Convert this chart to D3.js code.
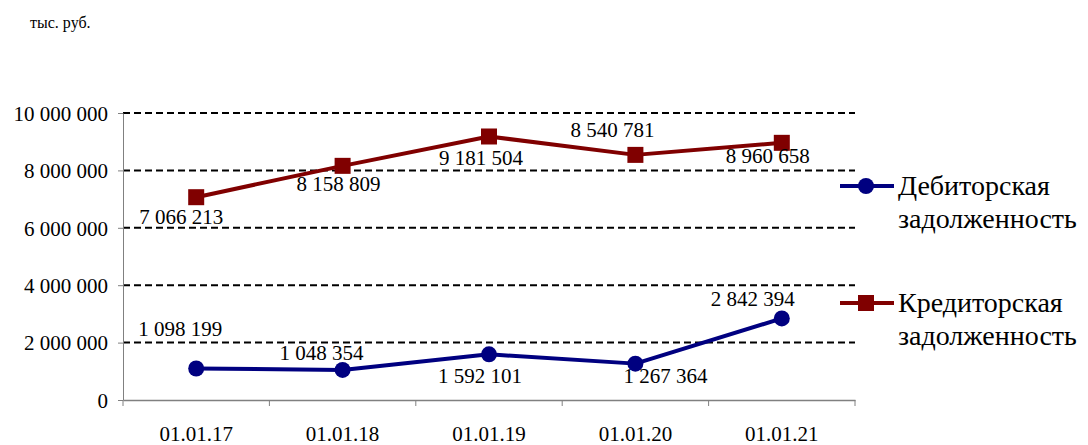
<!DOCTYPE html>
<html>
<head>
<meta charset="utf-8">
<script src="https://cdn.jsdelivr.net/npm/d3@7"></script>
<style>
  body { margin: 0; background: #fff; font-family: "Times New Roman", "Liberation Serif", serif; }
  svg, svg text { font-family: "Times New Roman", "Liberation Serif", serif; }
</style>
</head>
<body>
<svg id="chart" width="1088" height="445"></svg>
<script>
"use strict";

// --- data ---
const dates = ["01.01.17", "01.01.18", "01.01.19", "01.01.20", "01.01.21"]
const debitValues = [1098199, 1048354, 1592101, 1267364, 2842394]
const creditValues = [7066213, 8158809, 9181504, 8540781, 8960658]
const yTicks = [0, 2000000, 4000000, 6000000, 8000000, 10000000]
const seriesNames = ["Дебиторская задолженность", "Кредиторская задолженность"]

// label placement relative to point (layout only)
const debitLabelOffsets = [[-16, -40], [-21, -17], [-9, 21], [30, 12], [-29, -20]]
const creditLabelOffsets = [[-15, 19], [-4, 18], [-8, 21], [-23, -25], [-14, 13]]

const SERIF = "Times New Roman, Liberation Serif, serif"

const chartSvg = d3.select("#chart")
const plotLeft = 123, plotRight = 855, plotTop = 113, plotBottom = 400

const x = d3.scaleBand().domain(dates).range([plotLeft, plotRight])
const y = d3.scaleLinear().domain([0, 10000000]).range([plotBottom, plotTop])

const fmt = v => d3.format(",")(v).replace(/,/g, " ")

function serifText (sel, px) {
    return sel.attr("font-family", SERIF).attr("font-size", px).style("fill", "#000")
}

// unit caption
serifText(chartSvg.append("text").attr("x", 30).attr("y", 28), 16).text("тыс. руб.")

// gridlines
chartSvg.append("g").selectAll("line")
    .data(yTicks.filter(d => d > 0))
    .enter().append("line")
    .attr("x1", plotLeft).attr("x2", plotRight)
    .attr("y1", d => y(d)).attr("y2", d => y(d))
    .style("stroke", "#000")
    .style("stroke-width", 2)
    .style("stroke-dasharray", "7,4")

// y axis
const yAxis = chartSvg.append("g")
    .attr("transform", "translate(" + plotLeft + ",0)")
    .call(d3.axisLeft(y).tickValues(yTicks).tickFormat(fmt).tickSize(5).tickSizeOuter(0))
    .attr("font-family", SERIF).attr("font-size", 21)
yAxis.select(".domain").style("stroke", "#808080")
yAxis.selectAll(".tick line").style("stroke", "#808080")
serifText(yAxis.selectAll(".tick text"), 21)
    .attr("x", -15).attr("dy", "0.35em")

// x axis
const xAxis = chartSvg.append("g")
    .attr("transform", "translate(0," + plotBottom + ")")
    .call(d3.axisBottom(x).tickSize(0).tickSizeOuter(0))
    .attr("font-family", SERIF).attr("font-size", 21)
xAxis.select(".domain").style("stroke", "#808080").style("stroke-width", 1.5)
serifText(xAxis.selectAll(".tick text"), 21)
    .attr("y", 26)
// category separators
xAxis.selectAll(".sep")
    .data(dates.map(d => x(d)).concat([plotRight]))
    .enter().append("line")
    .attr("x1", d => d).attr("x2", d => d)
    .attr("y1", 0).attr("y2", 6)
    .style("stroke", "#808080")

const cx = d => x(d) + x.bandwidth() / 2

function drawSeries (values, color, marker, offsets) {
    const pts = values.map((v, i) => [cx(dates[i]), y(v)])
    chartSvg.append("path")
        .datum(pts)
        .attr("d", d3.line())
        .style("fill", "none")
        .style("stroke", color)
        .style("stroke-width", 4)
        .style("stroke-linejoin", "round")

    const g = chartSvg.append("g")
    if (marker === "circle") {
        g.selectAll("circle").data(pts).enter().append("circle")
            .attr("cx", d => d[0]).attr("cy", d => d[1]).attr("r", 8)
            .style("fill", color)
    } else {
        g.selectAll("rect").data(pts).enter().append("rect")
            .attr("x", d => d[0] - 8).attr("y", d => d[1] - 8)
            .attr("width", 16).attr("height", 16)
            .style("fill", color)
    }

    const labels = chartSvg.append("g").selectAll("text").data(values).enter().append("text")
        .attr("x", (d, i) => pts[i][0] + offsets[i][0])
        .attr("y", (d, i) => pts[i][1] + offsets[i][1])
        .attr("text-anchor", "middle")
        .attr("dy", "0.35em")
    serifText(labels, 21).text(d => fmt(d))
}

drawSeries(creditValues, "#800000", "square", creditLabelOffsets)
drawSeries(debitValues, "#000080", "circle", debitLabelOffsets)

// legend
const legend = [
    { name: seriesNames[0], color: "#000080", marker: "circle", ly: 186 },
    { name: seriesNames[1], color: "#800000", marker: "square", ly: 303 }
]
legend.forEach(l => {
    const g = chartSvg.append("g")
    g.append("line")
        .attr("x1", 840).attr("x2", 894).attr("y1", l.ly).attr("y2", l.ly)
        .style("stroke", l.color).style("stroke-width", 4)
    if (l.marker === "circle") {
        g.append("circle").attr("cx", 866).attr("cy", l.ly).attr("r", 8).style("fill", l.color)
    } else {
        g.append("rect").attr("x", 858).attr("y", l.ly - 8).attr("width", 16).attr("height", 16).style("fill", l.color)
    }
    const words = l.name.split(" ")
    serifText(g.append("text").attr("x", 898).attr("y", l.ly + 9), 28).text(words[0])
    serifText(g.append("text").attr("x", 898).attr("y", l.ly + 42), 28).text(words[1])
})
</script>
</body>
</html>
